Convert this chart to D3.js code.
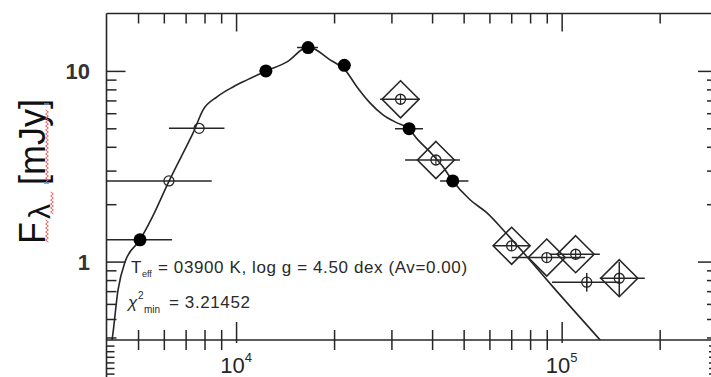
<!DOCTYPE html>
<html>
<head>
<meta charset="utf-8">
<script src="https://cdn.jsdelivr.net/npm/d3@7"></script>
<style>
	html, body { margin:0; padding:0; background:#fff; }
	svg { display:block; font-family:"Liberation Sans", Arial, Helvetica, sans-serif; }
</style>
</head>
<body>
<svg id="sedChart"></svg>
<script>
// 모델 SED 곡선 (wavelength [A], flux [mJy])
var modelWave = [4000, 4160, 4340, 4560, 5070, 5520, 6230, 6880, 7380, 7920, 8740, 9790, 10810, 12360, 14340, 16640, 19440, 21610, 23520, 25780, 28270, 31210, 33740, 36200, 39400, 43210, 46050, 52310, 58980, 66040, 78240, 94040, 131100, 145000];
var modelFlux = [0.30, 0.389, 0.711, 0.996, 1.30, 1.70, 2.65, 3.72, 4.73, 6.25, 7.31, 8.24, 8.97, 10.0, 11.15, 13.36, 11.42, 10.12, 8.24, 6.80, 5.88, 5.34, 5.02, 4.35, 3.76, 3.14, 2.68, 2.11, 1.80, 1.47, 1.06, 0.737, 0.389, 0.32];

// 검출 (채운 원)
var detWave = [5070, 12350, 16640, 21500, 34000, 46300];
var detFlux = [1.30, 10.0, 13.25, 10.7, 4.98, 2.65];
var detLo = [3900, 11800, 15390, 20600, 30760, 42330];
var detHi = [6360, 12900, 17850, 22500, 37500, 51720];

// 열린 원
var openWave = [6220, 7700];
var openFlux = [2.65, 5.0];
var openLo = [3900, 6220];
var openHi = [8420, 9210];

// 원적외선 (다이아몬드)
var farWave = [32000, 41100, 70200, 90000, 110400, 119400, 150300];
var farFlux = [7.10, 3.41, 1.21, 1.05, 1.093, 0.78, 0.818];
var farLo = [27700, 33050, 61500, 70300, 92000, 93400, 131000];
var farHi = [36700, 48700, 79900, 118000, 131000, 151300, 180000];
var farFluxLo = [null, null, null, null, null, 0.696, 0.661];
var farFluxHi = [null, null, null, null, null, 0.872, 0.996];
var farBox = [true, true, true, true, true, false, true];

// 눈금
var xMajor = [1e4, 1e5];
var xMinor = [5000, 6000, 7000, 8000, 9000, 2e4, 3e4, 4e4, 5e4, 6e4, 7e4, 8e4, 9e4, 2e5];
var yMajor = [1, 10];
var yMinor = [0.4, 0.5, 0.6, 0.7, 0.8, 0.9, 2, 3, 4, 5, 6, 7, 8, 9];
var xTickExp = ["4", "5"];
var yTickText = ["1", "10"];

var fitLine1 = ["T", "eff", "= 03900 K, log g = 4.50 dex (Av=0.00)"];
var fitLine2 = ["χ", "2", "min", "= 3.21452"];

var svgWidth = 711, svgHeight = 377,
	padLeft = 106.5, padRight = 717, padTop = 13.5, padBottom = 340,
	ink = "#262626";

var svg = d3.select("#sedChart")
	.attr("width", svgWidth)
	.attr("height", svgHeight);

var x = d3.scaleLog().domain([4000, 3e5]).range([padLeft, padRight]);
var y = d3.scaleLog().domain([0.388, 20]).range([padBottom, padTop]);
// 아래 패널 (잘린 부분)
var resid = d3.scaleLinear().domain([0, -2]).range([padBottom, padBottom + 112]);

svg.append("defs").append("clipPath")
	.attr("id", "plotClip")
	.append("rect")
	.attr("x", padLeft).attr("y", padTop)
	.attr("width", padRight - padLeft).attr("height", padBottom - padTop);

// 축 그리기
function drawAxis(axis, tx, ty){
	var g = svg.append("g")
		.attr("transform", "translate(" + tx + "," + ty + ")")
		.call(axis);
	g.select(".domain").remove();
	g.selectAll("line").style("stroke", ink).style("stroke-width", "1.5px");
	g.selectAll("text").remove();
	return g;
}
drawAxis(d3.axisBottom(x).tickValues(xMinor).tickSize(10), 0, padTop);
drawAxis(d3.axisBottom(x).tickValues(xMajor).tickSize(18), 0, padTop);
drawAxis(d3.axisTop(x).tickValues(xMinor).tickSize(10), 0, padBottom);
drawAxis(d3.axisTop(x).tickValues(xMajor).tickSize(18), 0, padBottom);
drawAxis(d3.axisBottom(x).tickValues(xMinor).tickSize(10), 0, padBottom);
drawAxis(d3.axisBottom(x).tickValues(xMajor).tickSize(3), 0, padBottom);
drawAxis(d3.axisRight(y).tickValues(yMinor).tickSize(10), padLeft, 0);
drawAxis(d3.axisRight(y).tickValues(yMajor).tickSize(19), padLeft, 0);
drawAxis(d3.axisLeft(y).tickValues(yMinor).tickSize(10), padRight, 0);
drawAxis(d3.axisLeft(y).tickValues(yMajor).tickSize(19), padRight, 0);
drawAxis(d3.axisRight(resid).ticks(20).tickSize(8), padLeft, 0)
	.selectAll(".tick").filter(function(d){ return d === 0; }).remove();
drawAxis(d3.axisLeft(resid).ticks(20).tickSize(8), padRight, 0)
	.selectAll(".tick").filter(function(d){ return d === 0; }).remove();

// 테두리
var frame = svg.append("g").style("stroke", ink).style("stroke-width", "1.6px");
frame.append("line").attr("x1", padLeft).attr("x2", padRight).attr("y1", padTop).attr("y2", padTop);
frame.append("line").attr("x1", padLeft).attr("x2", padRight).attr("y1", padBottom).attr("y2", padBottom);
frame.append("line").attr("x1", padLeft).attr("x2", padLeft).attr("y1", padTop).attr("y2", svgHeight + 5);
frame.append("line").attr("x1", padRight).attr("x2", padRight).attr("y1", padTop).attr("y2", svgHeight + 5);

// 눈금 라벨
svg.selectAll(".ylab")
	.data(yMajor)
	.enter().append("text")
	.attr("class", "ylab")
	.attr("x", 90)
	.attr("y", function(d){ return y(d) + 8; })
	.attr("text-anchor", "end")
	.style("font-size", "22px")
	.style("font-weight", "bold")
	.style("fill", "#333")
	.text(function(d, i){ return yTickText[i]; });

var xl = svg.selectAll(".xlab")
	.data(xMajor)
	.enter().append("text")
	.attr("class", "xlab")
	.attr("x", function(d){ return x(d); })
	.attr("y", 373)
	.attr("text-anchor", "middle")
	.style("font-size", "22px")
	.style("fill", ink);
xl.append("tspan").text("10");
xl.append("tspan").attr("dy", -11).style("font-size", "13px").text(function(d, i){ return xTickExp[i]; });

// y축 제목
var ytitle = svg.append("text")
	.attr("transform", "rotate(-90)")
	.attr("y", 45)
	.style("fill", "#111");
ytitle.append("tspan").attr("x", -244).style("font-size", "36px").text("F");
ytitle.append("tspan").attr("x", -219).attr("dy", 5).style("font-size", "30px").text("λ");
ytitle.append("tspan").attr("x", -185).attr("dy", -5).style("font-size", "36px").text("[mJy]");

// 맞춤법 물결선
function squiggle(cx, y0, y1){
	var pts = [];
	for(var yy = y0, k = 0; yy <= y1; yy += 2, k++){
		pts.push([cx + (k % 2 ? 1.4 : -1.4), yy]);
	}
	return d3.line()(pts);
}
[[47, 110, 182], [52, 192, 214], [47, 220, 243]].forEach(function(s){
	svg.append("path")
		.attr("d", squiggle(s[0], s[1], s[2]))
		.style("fill", "none")
		.style("stroke", "#f05a5a")
		.style("stroke-width", "1px");
});
svg.append("line").attr("x1", 44).attr("x2", 49).attr("y1", 104).attr("y2", 104).style("stroke", "#5b8fd6").style("stroke-width", "1.5px");
svg.append("line").attr("x1", 44).attr("x2", 49).attr("y1", 183).attr("y2", 183).style("stroke", "#5b8fd6").style("stroke-width", "1.5px");

// 플롯 영역
var plot = svg.append("g").attr("clip-path", "url(#plotClip)");

var modelData = modelWave.map(function(w, i){ return [w, modelFlux[i]]; });
var modelLine = d3.line()
	.x(function(d){ return x(d[0]); })
	.y(function(d){ return y(d[1]); })
	.curve(d3.curveMonotoneX);

plot.append("path")
	.datum(modelData)
	.attr("d", modelLine)
	.style("fill", "none")
	.style("stroke", ink)
	.style("stroke-width", "1.6px");

// 에러바
function errBars(wave, flux, lo, hi){
	plot.selectAll(null)
		.data(wave)
		.enter().append("line")
		.attr("x1", function(d, i){ return x(lo[i]); })
		.attr("x2", function(d, i){ return x(hi[i]); })
		.attr("y1", function(d, i){ return y(flux[i]); })
		.attr("y2", function(d, i){ return y(flux[i]); })
		.style("stroke", ink)
		.style("stroke-width", "1.5px");
}
errBars(detWave, detFlux, detLo, detHi);
errBars(openWave, openFlux, openLo, openHi);
errBars(farWave, farFlux, farLo, farHi);

// 세로 에러바
plot.selectAll(null)
	.data(farWave.filter(function(d, i){ return farFluxLo[i] !== null; }))
	.enter().append("line")
	.attr("x1", function(d){ return x(d); })
	.attr("x2", function(d){ return x(d); })
	.attr("y1", function(d){ var i = farWave.indexOf(d); return y(farFluxLo[i]); })
	.attr("y2", function(d){ var i = farWave.indexOf(d); return y(farFluxHi[i]); })
	.style("stroke", ink)
	.style("stroke-width", "1.5px");

plot.selectAll(".det")
	.data(detWave)
	.enter().append("circle")
	.attr("class", "det")
	.attr("cx", function(d){ return x(d); })
	.attr("cy", function(d, i){ return y(detFlux[i]); })
	.attr("r", 6.5)
	.style("fill", "#000");

plot.selectAll(".open")
	.data(openWave)
	.enter().append("circle")
	.attr("class", "open")
	.attr("cx", function(d){ return x(d); })
	.attr("cy", function(d, i){ return y(openFlux[i]); })
	.attr("r", 5)
	.style("fill", "none")
	.style("stroke", ink)
	.style("stroke-width", "1.3px");

var far = plot.selectAll(".far")
	.data(farWave)
	.enter().append("g")
	.attr("class", "far")
	.attr("transform", function(d, i){ return "translate(" + x(d) + "," + y(farFlux[i]) + ")"; })
	.style("fill", "none")
	.style("stroke", ink);
far.filter(function(d, i){ return farBox[i]; })
	.append("path")
	.attr("d", "M0,-18.5L18.5,0L0,18.5L-18.5,0Z")
	.style("stroke-width", "1.6px");
far.append("circle").attr("r", 5).style("stroke-width", "1.3px");
far.append("line").attr("y1", -5).attr("y2", 5).style("stroke-width", "1.2px");

// 맞춤 결과 텍스트
var note = svg.append("g")
	.style("fill", "#2a2a2a")
	.style("letter-spacing", "0.6px");
var t1 = note.append("text").attr("x", 131).attr("y", 273).style("font-size", "17px");
t1.append("tspan").text(fitLine1[0]);
t1.append("tspan").attr("dy", 4).style("font-size", "9px").style("letter-spacing", "0px").text(fitLine1[1]);
t1.append("tspan").attr("dy", -4).attr("x", 158).text(fitLine1[2]);
var t2 = note.append("text").attr("x", 128).attr("y", 308).style("font-size", "17px");
t2.append("tspan").style("font-style", "italic").text(fitLine2[0]);
t2.append("tspan").attr("x", 138).attr("y", 299).style("font-size", "10px").text(fitLine2[1]);
t2.append("tspan").attr("x", 144).attr("y", 313).style("font-size", "10px").style("letter-spacing", "0px").text(fitLine2[2]);
t2.append("tspan").attr("x", 169).attr("y", 308).text(fitLine2[3]);
</script>
</body>
</html>
